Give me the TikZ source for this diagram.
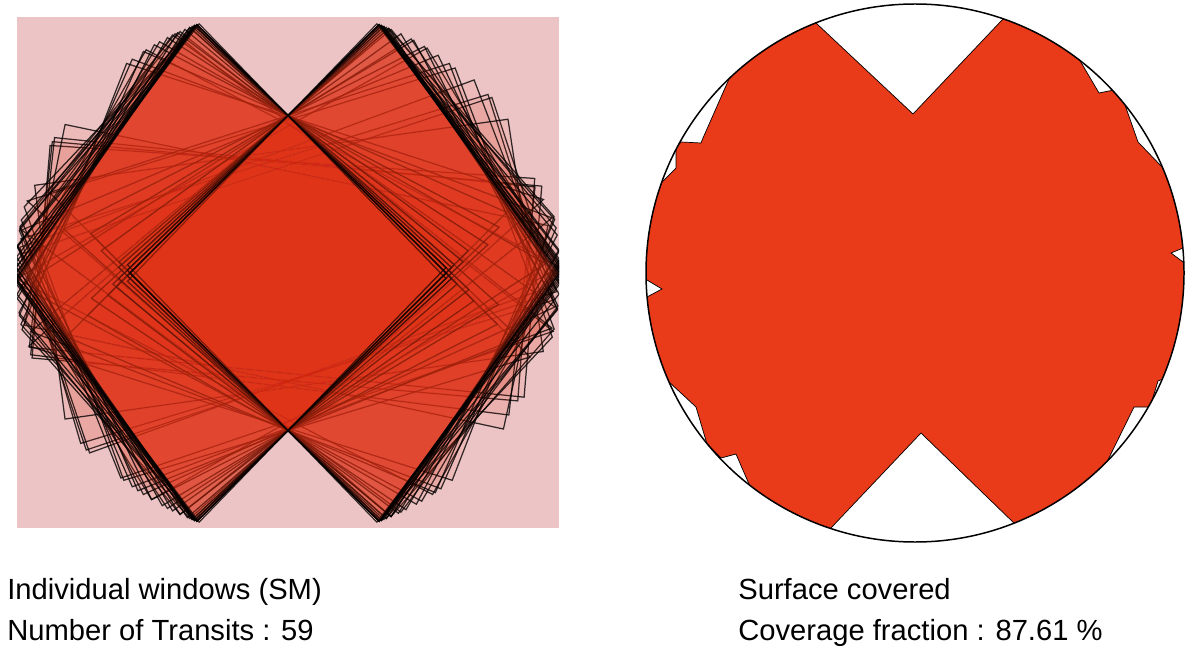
\documentclass[tikz,border=0pt]{standalone}
\usepackage{fontspec}
\setmainfont{Liberation Sans}

\definecolor{bgpink}{HTML}{ECC4C5}
\definecolor{winred}{HTML}{E03418}
\definecolor{covred}{HTML}{E93A19}

\tikzset{
  window/.style = {fill = winred, fill opacity = 0.065, draw = black, draw opacity = 0.8, line width = 0.7pt},
  covered/.style = {fill = covred, draw = black, line width = 0.4pt},
  caption/.style = {anchor = base west, inner sep = 0pt, font = \fontsize{16.6}{19}\selectfont},
}

% point (#1,#2) around the disk centre, squeezed at the limb -> coordinate #3
\newcommand{\putpt}[3]{%
  \pgfmathsetmacro\fr{max(veclen(#1,#2), 0.01)}%
  \pgfmathsetmacro\fk{max((\fr - 256)/16, 0)}%
  \pgfmathsetmacro\fs{min(\fr, 256 + 16*\fk/sqrt(1 + \fk*\fk))/\fr}%
  \pgfmathsetmacro\fX{288 + \fs*(#1)}%
  \pgfmathsetmacro\fY{273 + \fs*(#2)}%
  \coordinate (#3) at (\fX, \fY);%
}
% rectangle window: centre (\cx,\cy), half sizes \hw,\hh, turned by \rot
\newcommand{\rectwin}{%
  \foreach \sx/\sy/\nm in {-1/-1/wa, 1/-1/wb, 1/1/wc, -1/1/wd}{%
    \pgfmathsetmacro\gx{\cx + \sx*\hw*cos(\rot) - \sy*\hh*sin(\rot)}%
    \pgfmathsetmacro\gy{\cy + \sx*\hw*sin(\rot) + \sy*\hh*cos(\rot)}%
    \putpt{\gx}{\gy}{\nm}%
  }%
  \draw[window] (wa) -- (wb) -- (wc) -- (wd) -- cycle;%
}
% window of the crossed families: upper slope #1, lower slope #2, side #3 (1 left, -1 right)
\newcommand{\kite}[3]{%
  \pgfmathsetmacro\ta{100*(-1.58*sin(#1) + sqrt((1.58*sin(#1))^2 + 4.5792))}%
  \pgfmathsetmacro\tx{-(#3)*cos(#1)*\ta}%
  \pgfmathsetmacro\ty{-158 - sin(#1)*\ta}%
  \pgfmathsetmacro\tb{100*(-1.58*sin(#2) + sqrt((1.58*sin(#2))^2 + 4.5792))}%
  \pgfmathsetmacro\bx{-(#3)*cos(#2)*\tb}%
  \pgfmathsetmacro\by{158 + sin(#2)*\tb}%
  \pgfmathsetmacro\rx{(#3)*316/(tan(#1) + tan(#2))}%
  \pgfmathsetmacro\ry{-158 + abs(\rx)*tan(#1)}%
  \pgfmathsetmacro\qx{\tx + \bx - \rx}%
  \pgfmathsetmacro\qy{\ty + \by - \ry}%
  \putpt{\tx}{\ty}{wa}\putpt{\rx}{\ry}{wb}\putpt{\bx}{\by}{wc}\putpt{\qx}{\qy}{wd}%
  \draw[window] (wa) -- (wb) -- (wc) -- (wd) -- cycle;%
}

\begin{document}
\begin{tikzpicture}[x = 0.02cm, y = -0.02cm]
\useasboundingbox (0, 0) rectangle (1200, 655);
\coordinate (disk) at (288, 273);
\coordinate (rdisk) at (915, 273);

% individual windows
\fill[bgpink] (17, 17) rectangle (559, 528);
\begin{scope}
  \clip (17, 17) rectangle (559, 528);
  % wide ones
  \foreach \cx/\cy/\hw/\hh/\rot in {-10/-3/250/112/4.5, -4/-6/255/108/5.5, -12/0/248/115/6.5,
      -4/-4/252/110/-17, 2/0/256/106/-18.5, -6/-7/250/112/-20, 0/-5/245/120/-8, -5/3/250/105/12}{
    \rectwin
  }
  % the two crossed families, widest spread first
  \foreach \up/\lo/\sd in {25/27/1, 26/24/-1, 36/16/1, 16/40/-1, 18/42/1, 41/17/-1, 45/17/1,
      18/45/-1, 38/20/1, 22/36/-1, 20/38/1, 40/21/-1, 35/24/1, 32/28/-1, 44/22/1, 45/23/-1,
      24/45/1, 27/42/-1, 30/33/1, 45/30/-1, 45/27/1, 31/45/-1, 28/44/1, 43/34/-1, 42/31/1,
      36/44/-1, 33/43/1, 45/37/-1, 45/35/1, 41/45/-1, 37/45/1, 44/40/-1, 44/38/1, 45/40/-1,
      40/44/1, 42/44/-1, 45/41/1, 44/42/-1, 42/45/1, 46/43/-1, 44/44/1, 43/46/-1, 43/45/1,
      45/44/-1, 45/43/1, 44/45/-1, 46/44/1, 45/45/-1, 44/46/1, 45/45/-1, 45/45/1}{
    \kite{\up}{\lo}{\sd}
  }
\end{scope}

% surface covered
\begin{scope}
  \clip (rdisk) circle (269);
  \filldraw[covered] (816, 23) -- (913, 114) -- (1003, 19) -- (1040, -5) -- (1070, 20)
    -- (1079, 59) -- (1099, 93) -- (1114, 90) -- (1125, 105) -- (1138, 142) -- (1163, 168)
    -- (1200, 180) -- (1210, 240) -- (1183, 248) -- (1171, 253) -- (1183, 262) -- (1210, 270)
    -- (1210, 360) -- (1158, 381) -- (1150, 407) -- (1134, 407) -- (1103, 470) -- (1080, 540)
    -- (1017, 526) -- (921, 433) -- (830, 529) -- (780, 545) -- (752, 491) -- (736, 454)
    -- (721, 458) -- (707, 444) -- (696, 407) -- (668, 381) -- (630, 360) -- (620, 300)
    -- (647, 297) -- (662, 289) -- (647, 280) -- (620, 250) -- (630, 200) -- (659, 189)
    -- (662, 182) -- (676, 168) -- (676, 147) -- (681, 142) -- (701, 143) -- (703, 138)
    -- (729, 79) -- (760, 40) -- (790, 15) -- cycle;
\end{scope}
\draw[line width = 0.85pt] (rdisk) circle (269);

\node[caption] (wintitle) at (7, 599.5) {Individual windows (SM)};
\node[caption] (wincount) at (7, 640) {Number of Transits : 59};
\node[caption] (covtitle) at (738, 599.5) {Surface covered};
\node[caption] (covfrac) at (738, 640) {Coverage fraction : 87.61 \%};
\end{tikzpicture}
\end{document}
